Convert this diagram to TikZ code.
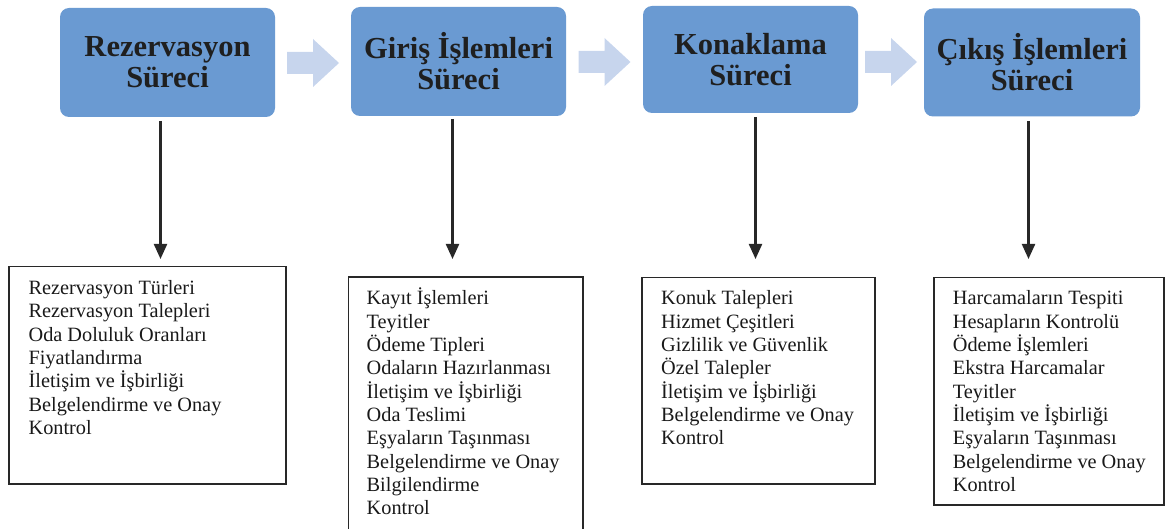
\documentclass[tikz,border=0pt]{standalone}
\usepackage{fontspec}
\setmainfont{Liberation Serif}
\usetikzlibrary{arrows.meta}
\definecolor{boxblue}{RGB}{106,154,210}
\definecolor{chev}{RGB}{199,213,237}
\definecolor{ink}{RGB}{40,40,40}
\begin{document}
\begin{tikzpicture}[x=1pt,y=-1pt,
  stage/.style={rectangle, rounded corners=9pt, fill=boxblue, inner sep=0pt,
    font=\bfseries\fontsize{30.5}{31}\selectfont, text=black!88, align=center},
  listbox/.style={rectangle, draw=ink, line width=1.8pt, inner sep=0pt, anchor=north west},
  listtext/.style={anchor=base west, inner sep=0pt,
    font=\fontsize{20.3}{23.3}\selectfont, text=black!90},
  vline/.style={draw=ink, line width=2.2pt, -{Triangle[width=13pt,length=15pt]}},
  pics/chevron/.style={code={\fill[chev] (0,-11) -- (26,-11) -- (26,-24) -- (52,0) -- (26,24) -- (26,11) -- (0,11) -- cycle;}}]
\useasboundingbox (0,0) rectangle (1165,529);

% top stages
\node[stage, minimum width=215pt, minimum height=109pt] (t1) at (167.5,62.5) {Rezervasyon\\Süreci};
\node[stage, minimum width=215pt, minimum height=109pt] (t2) at (458.5,61.5) {Giriş İşlemleri\\Süreci};
\node[stage, minimum width=215pt, minimum height=107pt] (t3) at (750.5,59.5) {Konaklama\\Süreci};
\node[stage, minimum width=216pt, minimum height=108pt] (t4) at (1032,62.5) {Çıkış İşlemleri\\Süreci};

% chevrons
\pic at (287,63) {chevron};
\pic at (578.5,62) {chevron};
\pic at (865,62) {chevron};

% list boxes
\node[listbox, minimum width=276.6pt, minimum height=217.3pt] (b1) at (8.4,265.7) {};
\node[listbox, minimum width=234.2pt, minimum height=264pt] (b2) at (347.5,276) {};
\node[listbox, minimum width=233pt, minimum height=206.3pt] (b3) at (641,276.7) {};
\node[listbox, minimum width=230.3pt, minimum height=227.3pt] (b4) at (932.7,276.7) {};

\node[listtext] (l1) at ([xshift=20pt,yshift=-29pt]b1.north west) {\parbox[t]{250pt}{Rezervasyon Türleri\\Rezervasyon Talepleri\\Oda Doluluk Oranları\\Fiyatlandırma\\İletişim ve İşbirliği\\Belgelendirme ve Onay\\Kontrol}};
\node[listtext] (l2) at ([xshift=19pt,yshift=-29pt]b2.north west) {\parbox[t]{210pt}{Kayıt İşlemleri\\Teyitler\\Ödeme Tipleri\\Odaların Hazırlanması\\İletişim ve İşbirliği\\Oda Teslimi\\Eşyaların Taşınması\\Belgelendirme ve Onay\\Bilgilendirme\\Kontrol}};
\node[listtext] (l3) at ([xshift=20pt,yshift=-28.3pt]b3.north west) {\parbox[t]{210pt}{Konuk Talepleri\\Hizmet Çeşitleri\\Gizlilik ve Güvenlik\\Özel Talepler\\İletişim ve İşbirliği\\Belgelendirme ve Onay\\Kontrol}};
\node[listtext] (l4) at ([xshift=20pt,yshift=-28.3pt]b4.north west) {\parbox[t]{210pt}{Harcamaların Tespiti\\Hesapların Kontrolü\\Ödeme İşlemleri\\Ekstra Harcamalar\\Teyitler\\İletişim ve İşbirliği\\Eşyaların Taşınması\\Belgelendirme ve Onay\\Kontrol}};

% vertical connectors
\coordinate (s1) at (160.5,121); \coordinate (e1) at (160.5,259);
\coordinate (s2) at (452.5,119); \coordinate (e2) at (452.5,259);
\coordinate (s3) at (755.5,117); \coordinate (e3) at (755.5,259);
\coordinate (s4) at (1028.5,121); \coordinate (e4) at (1028.5,259);
\draw[vline] (s1) -- (e1);
\draw[vline] (s2) -- (e2);
\draw[vline] (s3) -- (e3);
\draw[vline] (s4) -- (e4);
\end{tikzpicture}
\end{document}
